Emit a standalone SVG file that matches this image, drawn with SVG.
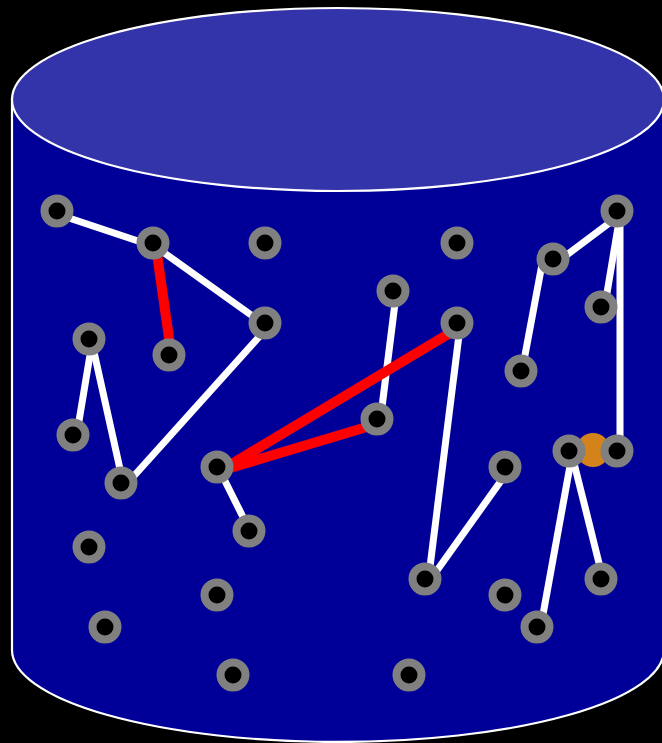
<svg xmlns="http://www.w3.org/2000/svg" width="662" height="743" viewBox="0 0 662 743">
<style>
.n{fill:#000;stroke:#808080;stroke-width:8}
.w{stroke:#fff;stroke-width:7;fill:none}
.r{stroke:#f00;stroke-width:10;fill:none}
</style>
<rect width="662" height="743" fill="#000"/>
<g id="cylinder">
<path d="M12,99.5 L12,650 A326,92 0 0 0 664,650 L664,99.5 Z" fill="#000099" stroke="#fff" stroke-width="2.2"/>
<ellipse cx="338" cy="99.5" rx="326" ry="91.5" fill="#3333aa" stroke="#fff" stroke-width="2.2"/>
</g>
<g id="connectors" transform="translate(3,4)">
<line class="w" x1="57" y1="211" x2="153" y2="243"/>
<line class="w" x1="153" y1="243" x2="265" y2="323"/>
<line class="w" x1="265" y1="323" x2="121" y2="483"/>
<line class="w" x1="121" y1="483" x2="89" y2="339"/>
<line class="w" x1="89" y1="339" x2="73" y2="435"/>
<line class="w" x1="217" y1="467" x2="249" y2="531"/>
<line class="w" x1="393" y1="291" x2="377" y2="419"/>
<line class="w" x1="457" y1="323" x2="425" y2="579"/>
<line class="w" x1="425" y1="579" x2="505" y2="467"/>
<line class="w" x1="519" y1="367" x2="540" y2="255"/>
<line class="w" x1="553" y1="259" x2="617" y2="211"/>
<line class="w" x1="617" y1="211" x2="601" y2="307"/>
<line class="w" x1="617" y1="211" x2="617" y2="451"/>
<line class="w" x1="569" y1="451" x2="537" y2="627"/>
<line class="w" x1="569" y1="451" x2="601" y2="579"/>
<line class="r" x1="153" y1="243" x2="169" y2="355"/>
<line class="r" x1="217" y1="467" x2="457" y2="323"/>
<line class="r" x1="217" y1="467" x2="377" y2="419"/>
</g>
<g id="highlight"><circle cx="593" cy="450" r="17" fill="#d4821a"/></g>
<g id="n1"><circle class="n" cx="57" cy="211" r="12.5"/></g>
<g id="n2"><circle class="n" cx="153" cy="243" r="12.5"/></g>
<g id="n3"><circle class="n" cx="265" cy="243" r="12.5"/></g>
<g id="n4"><circle class="n" cx="457" cy="243" r="12.5"/></g>
<g id="n5"><circle class="n" cx="617" cy="211" r="12.5"/></g>
<g id="n6"><circle class="n" cx="553" cy="259" r="12.5"/></g>
<g id="n7"><circle class="n" cx="601" cy="307" r="12.5"/></g>
<g id="n8"><circle class="n" cx="265" cy="323" r="12.5"/></g>
<g id="n9"><circle class="n" cx="393" cy="291" r="12.5"/></g>
<g id="n10"><circle class="n" cx="457" cy="323" r="12.5"/></g>
<g id="n11"><circle class="n" cx="89" cy="339" r="12.5"/></g>
<g id="n12"><circle class="n" cx="169" cy="355" r="12.5"/></g>
<g id="n13"><circle class="n" cx="521" cy="371" r="12.5"/></g>
<g id="n14"><circle class="n" cx="73" cy="435" r="12.5"/></g>
<g id="n15"><circle class="n" cx="377" cy="419" r="12.5"/></g>
<g id="n16"><circle class="n" cx="121" cy="483" r="12.5"/></g>
<g id="n17"><circle class="n" cx="217" cy="467" r="12.5"/></g>
<g id="n18"><circle class="n" cx="505" cy="467" r="12.5"/></g>
<g id="n19"><circle class="n" cx="569" cy="451" r="12.5"/></g>
<g id="n20"><circle class="n" cx="617" cy="451" r="12.5"/></g>
<g id="n21"><circle class="n" cx="249" cy="531" r="12.5"/></g>
<g id="n22"><circle class="n" cx="89" cy="547" r="12.5"/></g>
<g id="n23"><circle class="n" cx="425" cy="579" r="12.5"/></g>
<g id="n24"><circle class="n" cx="217" cy="595" r="12.5"/></g>
<g id="n25"><circle class="n" cx="505" cy="595" r="12.5"/></g>
<g id="n26"><circle class="n" cx="601" cy="579" r="12.5"/></g>
<g id="n27"><circle class="n" cx="105" cy="627" r="12.5"/></g>
<g id="n28"><circle class="n" cx="537" cy="627" r="12.5"/></g>
<g id="n29"><circle class="n" cx="233" cy="675" r="12.5"/></g>
<g id="n30"><circle class="n" cx="409" cy="675" r="12.5"/></g>
</svg>
